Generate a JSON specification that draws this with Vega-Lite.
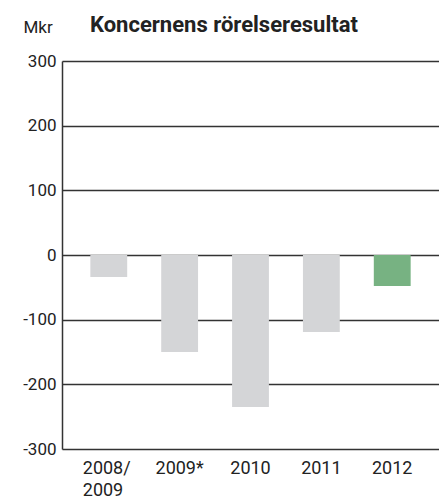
{
  "$schema": "https://vega.github.io/schema/vega-lite/v6.json",
  "autosize": "none",
  "width": 377,
  "height": 388,
  "padding": {"left": 62, "top": 61, "right": 0, "bottom": 50},
  "background": "white",
  "title": {
    "text": "Koncernens rörelseresultat",
    "anchor": "start",
    "frame": "group",
    "dx": 28,
    "offset": -36,
    "baseline": "alphabetic",
    "font": "Roboto",
    "fontSize": 22,
    "fontWeight": "bold",
    "color": "#222222"
  },
  "data": {
    "values": [
      {"period": "2008/2009", "value": -34, "highlight": "no"},
      {"period": "2009*", "value": -150, "highlight": "no"},
      {"period": "2010", "value": -235, "highlight": "no"},
      {"period": "2011", "value": -119, "highlight": "no"},
      {"period": "2012", "value": -48, "highlight": "yes"}
    ]
  },
  "mark": {"type": "bar"},
  "encoding": {
    "x": {
      "field": "period",
      "type": "nominal",
      "sort": null,
      "scale": {"paddingInner": 0.48, "paddingOuter": 0.4},
      "axis": {
        "title": null,
        "domain": false,
        "ticks": false,
        "grid": false,
        "labelAngle": 0,
        "labelFont": "Roboto",
        "labelFontSize": 18,
        "labelColor": "#222222",
        "labelPadding": 10,
        "labelLineHeight": 22,
        "labelAlign": {"condition": {"test": "datum.value == '2008/2009'", "value": "left"}, "value": "center"},
        "labelOffset": {"condition": {"test": "datum.value == '2008/2009'", "value": -26}, "value": 0},
        "labelExpr": "datum.value == '2008/2009' ? ['2008/', '2009'] : datum.value"
      }
    },
    "y": {
      "field": "value",
      "type": "quantitative",
      "scale": {"domain": [-300, 300], "nice": false},
      "axis": {
        "values": [-300, -200, -100, 0, 100, 200, 300],
        "labelExpr": "'' + datum.value",
        "grid": true,
        "gridColor": "#333333",
        "gridWidth": 1.5,
        "gridOpacity": 1,
        "domain": true,
        "domainColor": "#333333",
        "domainWidth": 1.5,
        "ticks": false,
        "labelFont": "Roboto",
        "labelFontSize": 17,
        "labelColor": "#222222",
        "labelPadding": 6,
        "title": "Mkr",
        "titleFont": "Roboto",
        "titleFontSize": 17,
        "titleFontWeight": "normal",
        "titleColor": "#222222",
        "titleAngle": 0,
        "titleAlign": "left",
        "titleBaseline": "alphabetic",
        "titleX": -39,
        "titleY": -29
      }
    },
    "color": {
      "field": "highlight",
      "type": "nominal",
      "scale": {"domain": ["no", "yes"], "range": ["#d4d5d7", "#77b282"]},
      "legend": null
    }
  },
  "config": {"view": {"stroke": null}}
}
